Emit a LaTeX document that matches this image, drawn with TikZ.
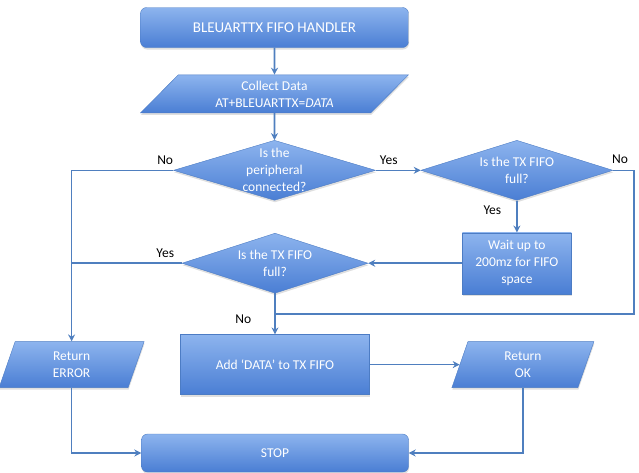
\documentclass[tikz,border=0pt]{standalone}
\usepackage{fontspec}
\setmainfont{Carlito}
\usepackage{tikz}
\usetikzlibrary{shapes.geometric, arrows.meta, positioning, shadows, calc}
\definecolor{BoxTop}{HTML}{8DB4EE}
\definecolor{BoxBottom}{HTML}{4A7ED4}
\definecolor{BoxEdge}{HTML}{4C7CC4}
\definecolor{FlowLine}{HTML}{4F7FBF}

\begin{document}
\begin{tikzpicture}[
  x=1pt, y=1pt,
  every node/.style={font=\fontsize{13.5}{17}\selectfont},
  flow/.style={draw=BoxEdge, thin, top color=BoxTop, bottom color=BoxBottom,
               text=white, align=center,
               drop shadow={opacity=0.25, shadow xshift=0.5pt, shadow yshift=-2pt}},
  box/.style={flow, rectangle, inner sep=2pt},
  terminal/.style={box, rounded corners=6pt, minimum width=268pt, minimum height=40pt},
  io/.style={flow, trapezium, trapezium stretches body, inner sep=1pt},
  decision/.style={flow, diamond, inner sep=0pt},
  qtext/.style={text=white, align=center},
  arr/.style={-{Stealth[length=7pt, width=7pt]}, line width=1.6pt, color=FlowLine},
  wire/.style={line width=1.6pt, color=FlowLine},
  lbl/.style={text=black, inner sep=1pt}
]
\useasboundingbox (0,0) rectangle (639,-472);

% Nodes
\node[terminal, font=\fontsize{15}{18}\selectfont] (handler) at (274.5,-27.5) {BLEUARTTX FIFO HANDLER};

\node[io, trapezium left angle=37, trapezium right angle=143,
      minimum width=268pt, minimum height=38pt, below=27pt of handler] (collect)
     {Collect Data\\AT+BLEUARTTX=\textit{DATA}};

\node[decision, minimum width=202pt, minimum height=60pt, below=27pt of collect,
      label={[qtext]center:{Is the\\peripheral\\connected?}}] (connected) {};

\node[decision, minimum width=192pt, minimum height=60pt, right=45pt of connected,
      label={[qtext]center:{Is the TX FIFO\\full?}}] (fullA) {};

\node[box, minimum width=109pt, minimum height=61pt, below=32pt of fullA] (wait)
     {Wait up to\\200mz for FIFO\\space};

\node[decision, minimum width=186pt, minimum height=60pt, left=94pt of wait,
      label={[qtext]center:{Is the TX FIFO\\full?}}] (fullB) {};

\node[box, minimum width=189pt, minimum height=60pt, below=41pt of fullB] (add)
     {Add ‘DATA’ to TX FIFO};

\node[io, trapezium left angle=60, trapezium right angle=120,
      minimum width=145pt, minimum height=46pt, left=44pt of add] (error) {Return\\ERROR};

\node[io, trapezium left angle=60, trapezium right angle=120,
      minimum width=142pt, minimum height=46pt, right=90pt of add] (ok) {Return\\OK};

\node[terminal, minimum width=267pt, minimum height=38pt, below=39pt of add] (stop) {STOP};

\coordinate (merge) at ($(fullB.south)!0.5!(add.north)$);

% Arrows
\draw[arr] (handler) -- (collect);
\draw[arr] (collect) -- (connected);
\draw[arr] (connected.west) -| node[lbl, pos=0.04, above=4pt] {No} (error.north);
\draw[arr] (connected.east) -- node[lbl, pos=0.29, above=4pt] {Yes} (fullA.west);
\draw[arr] (fullA.south) -- node[lbl, pos=0.3, left=14pt] {Yes} (wait.north);
\draw[wire] (fullA.east) -- node[lbl, pos=0.33, above=5pt] {No} ++(21,0) |- (merge);
\draw[arr] (wait.west) -- (fullB.east);
\draw[wire] (fullB.west) -- node[lbl, pos=0.15, above=4pt] {Yes} (fullB.west -| error.north);
\draw[arr] (fullB.south) -- node[lbl, pos=0.63, left=22pt] {No} (add.north);
\draw[arr] (add.east) -- (ok.west);

% Exits to stop
\draw[arr] (error.south) |- (stop.west);
\draw[arr] (ok.south) |- (stop.east);

\end{tikzpicture}
\end{document}
